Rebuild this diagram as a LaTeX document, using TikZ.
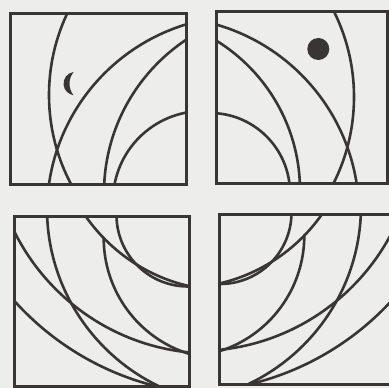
\documentclass[tikz,border=0pt]{standalone}
\usepackage{tikz}
\usepackage{xcolor}
\definecolor{ink}{HTML}{3A3535}
\definecolor{paper}{HTML}{EDEDEB}
\tikzset{
  tile/.style={draw=ink,line width=3pt,line join=miter},
  arcline/.style={draw=ink,line width=2.6pt},
  spot/.style={fill=ink}
}
% lower tile, drawn once and mirrored for the right one
\newcommand{\lowertile}{%
  \begin{scope}
    \clip (14.5,216.5) rectangle (189,386.5);
    \draw[arcline] (188,215) circle[radius=71.5];
    \draw[arcline] (228,117) circle[radius=173.5];
    \draw[arcline] (211,134) circle[radius=219.5];
    \draw[arcline] (244,208.5) circle[radius=197];
    \draw[arcline] (224.4,112) circle[radius=282.5];
  \end{scope}
  \draw[arcline] (103.7,238) arc[start angle=180,end angle=107.3,radius=121.3];
  \draw[tile] (14.5,216.5) rectangle (189,386.5);
}

\begin{document}
\begin{tikzpicture}[x=1pt,y=-1pt]
  \path[fill=paper,use as bounding box] (0,0) rectangle (389,388);

  % Upper left: moon
  \begin{scope}
    \clip (10,13.3) rectangle (186.5,184.5);
    \draw[arcline] (240,95) circle[radius=191];
    \draw[arcline] (243,212) circle[radius=196];
    \draw[arcline] (288,193) circle[radius=184];
    \draw[arcline] (203,201) circle[radius=90];
  \end{scope}
  \fill[spot] (73.5,72) arc[start angle=261.6,end angle=98.4,radius=11.7]
    arc[start angle=141.6,end angle=218.4,radius=18.5] -- cycle;
  \draw[tile] (10,13.3) rectangle (186.5,184.5);

  % Upper right: dot
  \begin{scope}
    \clip (216,11) rectangle (387,183);
    \draw[arcline] (162,97) circle[radius=192];
    \draw[arcline] (162,214) circle[radius=197];
    \draw[arcline] (124,190.5) circle[radius=176];
    \draw[arcline] (210,193) circle[radius=80];
  \end{scope}
  \fill[spot] (318.3,49) circle[radius=11];
  \draw[tile] (216,11) rectangle (387,183);

  % Lower pair
  \lowertile
  \begin{scope}[shift={(408,-2.5)},xscale=-1]
    \lowertile
  \end{scope}
\end{tikzpicture}
\end{document}
